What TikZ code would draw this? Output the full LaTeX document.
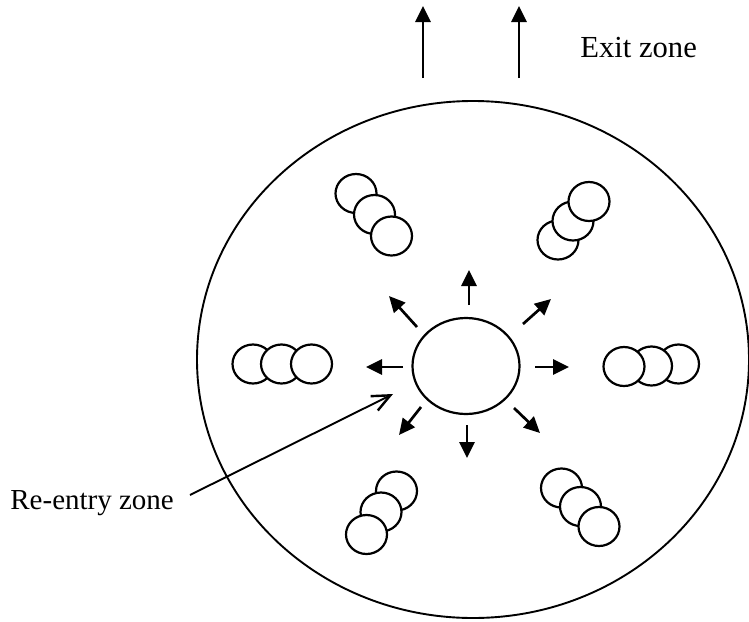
\documentclass[tikz,border=0pt]{standalone}
\usepackage{fontspec}
\setmainfont{Liberation Serif}
\usetikzlibrary{arrows.meta,shapes.geometric}

\tikzset{
  dish/.style={draw, ellipse, line width=0.95pt, inner sep=0pt,
               minimum width=276pt, minimum height=258.5pt},
  hub/.style={draw, ellipse, line width=1.1pt, inner sep=0pt, fill=white,
              minimum width=53.5pt, minimum height=48pt},
  bead/.style={draw, ellipse, line width=1.1pt, inner sep=0pt, fill=white,
               minimum width=20.5pt, minimum height=19.5pt},
  flow/.style={line width=1.35pt, -{Triangle[length=8pt,width=7.5pt]}},
  pointer/.style={line width=0.95pt, -{Straight Barb[length=9pt,width=8pt,line width=1.2pt]}},
  zonelabel/.style={inner sep=0pt, anchor=base west}
}

\begin{document}
\begin{tikzpicture}[x=0.5pt, y=-0.5pt]
  \useasboundingbox (0,0) rectangle (749,621);

  % outer vessel and central body
  \node[dish] (dish) at (473,359.5) {};
  \node[hub] (hub) at (466,366) {};

  % clusters of particles, back to front
  % upper left
  \node[bead] (ul1) at (356,193.5) {};
  \node[bead] (ul2) at (374.5,214.5) {};
  \node[bead] (ul3) at (391.5,236) {};
  % upper right
  \node[bead] (ur3) at (558,240) {};
  \node[bead] (ur2) at (573,221) {};
  \node[bead] (ur1) at (589,201.5) {};
  % left
  \node[bead] (l1) at (253,364) {};
  \node[bead] (l2) at (281.5,364) {};
  \node[bead] (l3) at (311.5,364) {};
  % right
  \node[bead] (r3) at (678.5,364) {};
  \node[bead] (r2) at (651.5,366) {};
  \node[bead] (r1) at (624,366.5) {};
  % lower left
  \node[bead] (ll1) at (396.5,491) {};
  \node[bead] (ll2) at (381,512) {};
  \node[bead] (ll3) at (366.5,534.5) {};
  % lower right
  \node[bead] (lr1) at (561.5,488) {};
  \node[bead] (lr2) at (580.5,506.5) {};
  \node[bead] (lr3) at (599,526.5) {};

  % radial flow out of the central body
  \coordinate (nS) at (469,305);  \coordinate (nT) at (469,270);
  \coordinate (sS) at (467,425);  \coordinate (sT) at (467,458);
  \coordinate (wS) at (403,367);  \coordinate (wT) at (366,367);
  \coordinate (eS) at (535,367);  \coordinate (eT) at (569,367);
  \coordinate (nwS) at (417,327); \coordinate (nwT) at (389,296);
  \coordinate (neS) at (523,324); \coordinate (neT) at (551,299);
  \coordinate (swS) at (421,407); \coordinate (swT) at (399,435);
  \coordinate (seS) at (514,408); \coordinate (seT) at (540,433);
  \foreach \d in {n,s,w,e,nw,ne,sw,se}
    \draw[flow] (\d S) -- (\d T);

  % exit flow
  \coordinate (x1S) at (423,78); \coordinate (x1T) at (423,6);
  \coordinate (x2S) at (519,78); \coordinate (x2T) at (519,6);
  \draw[flow] (x1S) -- (x1T);
  \draw[flow] (x2S) -- (x2T);

  % labels
  \node[zonelabel, font=\fontsize{15.3pt}{18pt}\selectfont] (exit) at (580,57) {Exit zone};
  \node[zonelabel, font=\fontsize{14.5pt}{17pt}\selectfont] (reentry) at (10,509) {Re-entry zone};
  \coordinate (reentryTail) at (190,495);
  \coordinate (reentryTip) at (393,394);
  \draw[pointer] (reentryTail) -- (reentryTip);
\end{tikzpicture}
\end{document}
